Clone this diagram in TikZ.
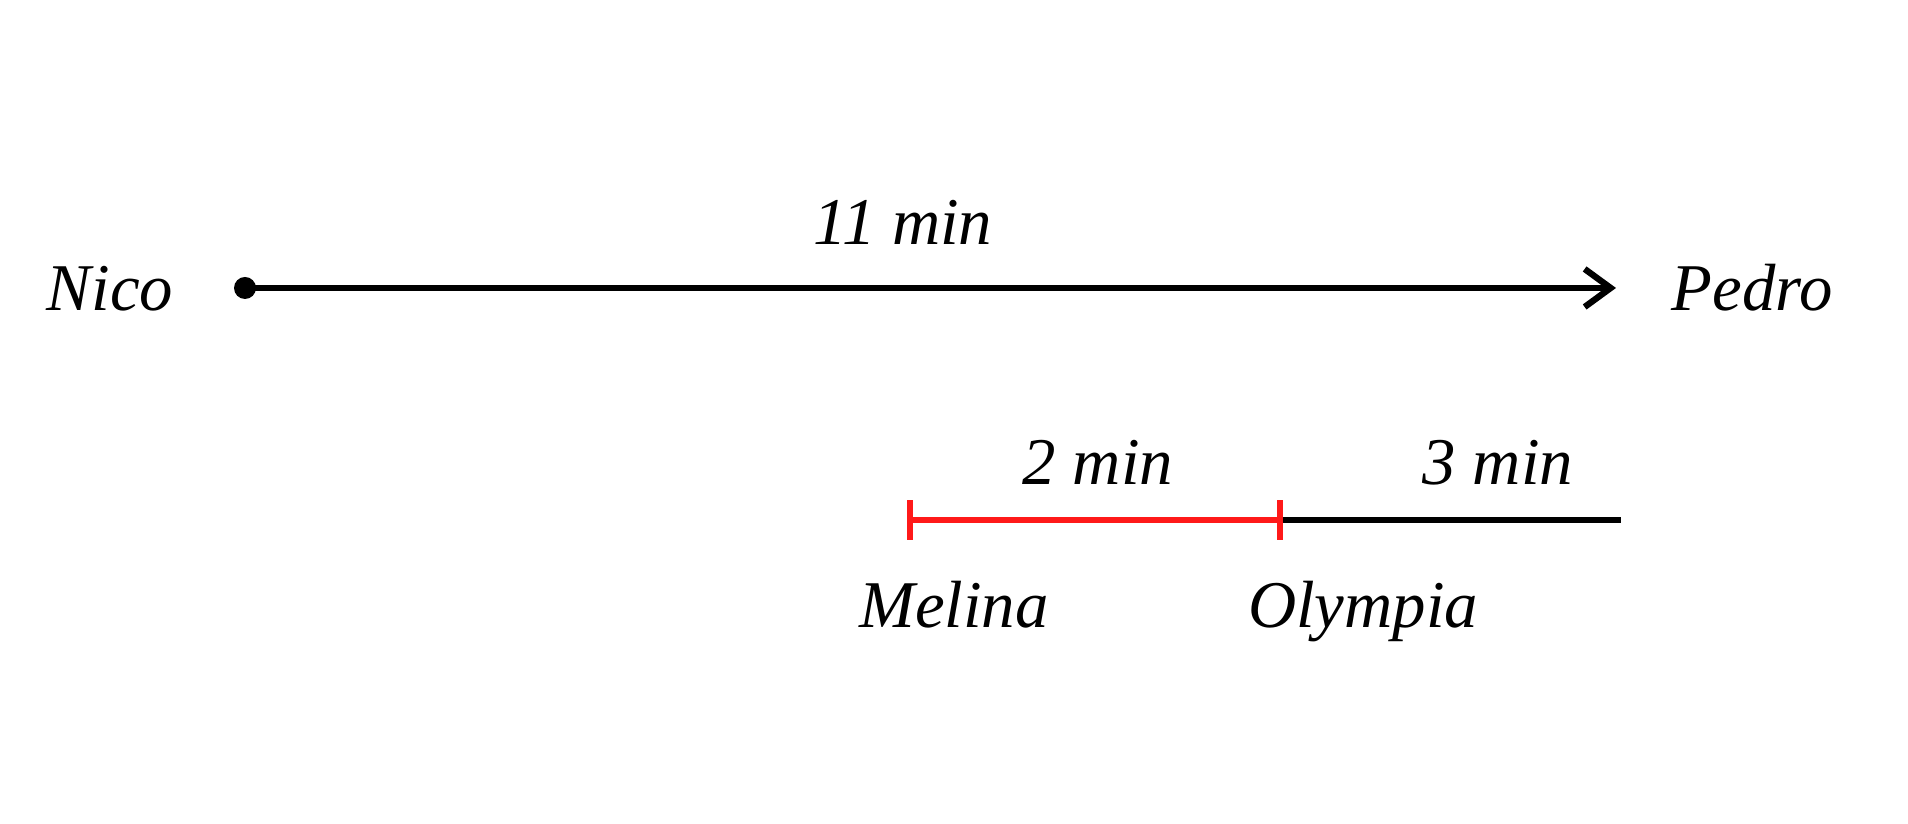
\documentclass[tikz,border=0pt]{standalone}
\usepackage{fontspec}
\setmainfont{Liberation Serif}
\usetikzlibrary{arrows.meta,positioning}

\begin{document}
\begin{tikzpicture}
  [x=1cm,y=1cm,>={Straight Barb[length=2.6mm,width=3.8mm]},
  every node/.style={font=\fontsize{19}{22}\selectfont\itshape,anchor=base},
  seg/.style={line width=1.8pt},
  red seg/.style={seg,draw=red!90},
  tick/.style={red seg,line width=1.6pt}]
  \useasboundingbox (0,0) rectangle (19.08,8.24);
  % top line
  \node (nico) at (1.10,5.13) {Nico};
  \node (pedro) at (17.52,5.13) {Pedro};
  \coordinate (start) at (2.45,5.36);
  \coordinate (finish) at (16.16,5.36);
  \fill (start) circle (0.11);
  \draw[seg,->] (start) -- (finish);
  \node (eleven) at (9.03,5.79) {11 min};
  % bottom line
  \coordinate (mel) at (9.10,3.04);
  \coordinate (oly) at (12.80,3.04);
  \coordinate (stop) at (16.21,3.04);
  \draw[seg] (oly) -- (stop);
  \draw[red seg] (mel) -- (oly);
  \draw[tick] ([yshift=-0.2cm]mel) -- ([yshift=0.2cm]mel);
  \draw[tick] ([yshift=-0.2cm]oly) -- ([yshift=0.2cm]oly);
  \node (two) at (10.98,3.39) {2 min};
  \node (three) at (14.98,3.39) {3 min};
  \node (melina) at (9.54,1.96) {Melina};
  \node (olympia) at (13.63,1.96) {Olympia};
\end{tikzpicture}
\end{document}
